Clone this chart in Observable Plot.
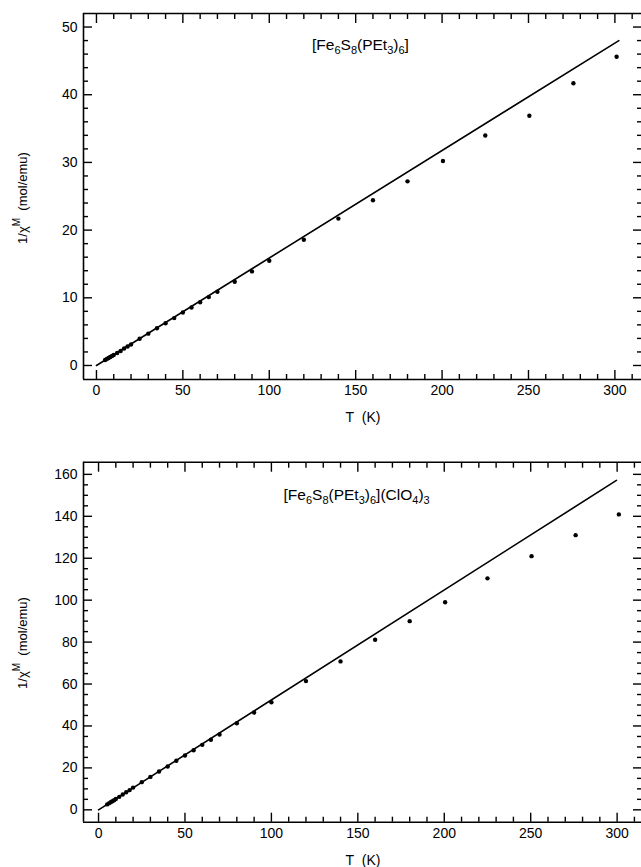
<!DOCTYPE html>
<html>
<head>
<meta charset="utf-8">
<script src="https://cdn.jsdelivr.net/npm/d3@7"></script>
<script src="https://cdn.jsdelivr.net/npm/@observablehq/plot@0.6"></script>
<style>
  html, body { margin: 0; padding: 0; background: #fff; }
  svg { display: block; }
</style>
</head>
<body>
<div id="chart"></div>
<script>
// ---- Data ----
const temps = [5,6,7,8,9,10,12,14,16,18,20,25,30,35,40,45,50,55,60,65,70,80,90,100,120,140,160,180,200.5,225,250.5,276,301];

// [Fe6S8(PEt3)6]
const neutralInvChi = [0.8,0.95,1.1,1.25,1.4,1.55,1.85,2.15,2.5,2.8,3.1,3.94,4.7,5.5,6.25,7.0,7.83,8.57,9.35,10.1,10.9,12.36,13.9,15.47,18.57,21.7,24.4,27.2,30.2,33.97,36.9,41.7,45.6];
const neutralFitT = [0, 302.3];
const neutralFitV = [0, 48.0];

// [Fe6S8(PEt3)6](ClO4)3
const cationInvChi = [2.6,3.1,3.6,4.1,4.6,5.2,6.2,7.3,8.4,9.4,10.6,13.2,15.7,18.3,20.7,23.4,25.9,28.4,31.0,33.4,35.9,41.3,46.4,51.3,61.4,70.8,81.1,90.0,99.0,110.4,121.0,131.0,140.9];
const cationFitT = [0, 299.6];
const cationFitV = [0, 157.1];

// Ticks
const xMajor = [0, 50, 100, 150, 200, 250, 300];
const xMinor = d3.range(0, 311, 10).filter(d => d % 50 !== 0);
const yMajorTop = [0, 10, 20, 30, 40, 50];
const yMinorTop = d3.range(2, 50, 2).filter(d => d % 10 !== 0);
const yMajorBot = [0, 20, 40, 60, 80, 100, 120, 140, 160];
const yMinorBot = d3.range(5, 165, 5).filter(d => d % 20 !== 0);

const FONT = "'Liberation Sans', Arial, Helvetica, sans-serif";

function panel(cfg) {
  const pts = cfg.T.map((t, i) => ({T: t, v: cfg.V[i]}));
  const fit = cfg.fitT.map((t, i) => ({T: t, v: cfg.fitV[i]}));
  const noText = () => "";
  const plot = Plot.plot({
    width: 641,
    height: cfg.height,
    marginLeft: 83,
    marginRight: 0,
    marginTop: cfg.marginTop,
    marginBottom: cfg.marginBottom,
    style: {fontFamily: FONT, fontSize: "14px", color: "#000", background: "#fff"},
    x: {domain: cfg.xDomain},
    y: {domain: cfg.yDomain},
    marks: [
      Plot.ruleX([cfg.xDomain[0]], {stroke: "#000", strokeWidth: 1.6}),
      Plot.ruleY([cfg.yDomain[0], cfg.yDomain[1]], {stroke: "#000", strokeWidth: 1.6}),
      Plot.axisX({anchor: "bottom", ticks: xMajor, tickSize: 0, tickPadding: 6, fontSize: 14, label: null}),
      Plot.axisX({anchor: "bottom", ticks: xMajor, tickSize: -9, tickFormat: noText, label: null, strokeWidth: 1.4}),
      Plot.axisX({anchor: "bottom", ticks: xMinor, tickSize: -5, tickFormat: noText, label: null, strokeWidth: 1.4}),
      Plot.axisX({anchor: "top", ticks: xMajor, tickSize: -9, tickFormat: noText, label: null, strokeWidth: 1.4}),
      Plot.axisX({anchor: "top", ticks: xMinor, tickSize: -5, tickFormat: noText, label: null, strokeWidth: 1.4}),
      Plot.axisY({anchor: "left", ticks: cfg.yMajor, tickSize: 0, tickPadding: 6, fontSize: 14, label: null}),
      Plot.axisY({anchor: "left", ticks: cfg.yMajor, tickSize: -9, tickFormat: noText, label: null, strokeWidth: 1.4}),
      Plot.axisY({anchor: "left", ticks: cfg.yMinor, tickSize: -5, tickFormat: noText, label: null, strokeWidth: 1.4}),
      Plot.axisY({anchor: "right", ticks: cfg.yMajor, tickSize: -9, tickFormat: noText, label: null, strokeWidth: 1.4}),
      Plot.axisY({anchor: "right", ticks: cfg.yMinor, tickSize: -5, tickFormat: noText, label: null, strokeWidth: 1.4}),
      Plot.line(fit, {x: "T", y: "v", stroke: "#000", strokeWidth: 1.6}),
      Plot.dot(pts, {x: "T", y: "v", r: 2.2, fill: "#000", stroke: "none"})
    ]
  });

  const svg = d3.select(plot);
  const title = svg.append("text")
    .attr("x", cfg.titleX).attr("y", cfg.titleY)
    .attr("text-anchor", "start")
    .attr("font-family", FONT).attr("font-size", 15.5).attr("fill", "#000");
  let shift = 0;
  cfg.title.forEach(([s, sub]) => {
    const want = sub ? 4 : 0;
    const ts = title.append("tspan").text(s);
    if (sub) ts.attr("font-size", 11);
    if (want !== shift) { ts.attr("dy", want - shift); shift = want; }
  });
  const yl = svg.append("text")
    .attr("transform", `translate(27,${cfg.yLabelY}) rotate(-90)`)
    .attr("text-anchor", "middle")
    .attr("font-family", FONT).attr("font-size", 13).attr("fill", "#000");
  yl.append("tspan").text("1/\u03C7");
  yl.append("tspan").attr("font-size", 10).attr("dy", -7).text("M");
  yl.append("tspan").attr("dy", 7).text("\u00A0\u00A0(mol/emu)");
  svg.append("text")
    .attr("x", 363).attr("y", cfg.xLabelY)
    .attr("text-anchor", "middle")
    .attr("font-family", FONT).attr("font-size", 14).attr("fill", "#000")
    .text("T\u00A0\u00A0(K)");
  return plot;
}

const topPanel = panel({
  T: temps, V: neutralInvChi, fitT: neutralFitT, fitV: neutralFitV,
  xDomain: [-7.5, 315.4], yDomain: [-2.07, 52.0],
  yMajor: yMajorTop, yMinor: yMinorTop,
  height: 430, marginTop: 13, marginBottom: 51,
  title: [["[Fe"], ["6", 1], ["S"], ["8", 1], ["(PEt"], ["3", 1], [")"], ["6", 1], ["]"]],
  titleX: 312, titleY: 50, yLabelY: 198, xLabelY: 422
});

const bottomPanel = panel({
  T: temps, V: cationInvChi, fitT: cationFitT, fitV: cationFitV,
  xDomain: [-8.7, 314.1], yDomain: [-5.9, 165.8],
  yMajor: yMajorBot, yMinor: yMinorBot,
  height: 437, marginTop: 31.7, marginBottom: 45.3,
  title: [["[Fe"], ["6", 1], ["S"], ["8", 1], ["(PEt"], ["3", 1], [")"], ["6", 1], ["](ClO"], ["4", 1], [")"], ["3", 1]],
  titleX: 283.5, titleY: 70, yLabelY: 213, xLabelY: 435
});

const chart = document.getElementById("chart");
chart.appendChild(topPanel);
chart.appendChild(bottomPanel);
</script>
</body>
</html>
